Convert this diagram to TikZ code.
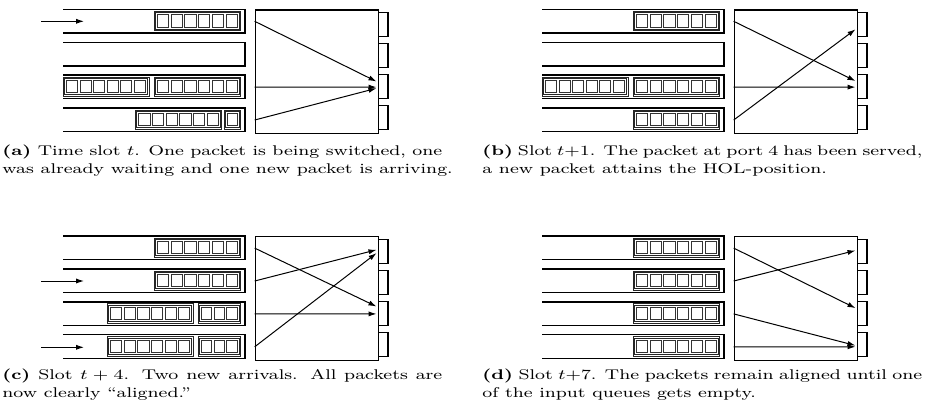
\documentclass[tikz,border=0pt]{standalone}
\usetikzlibrary{arrows.meta}

\tikzset{
  x=0.5pt, y=-0.5pt,
  queueline/.style={draw=black, line width=0.65pt},
  switchbox/.style={draw=black, line width=0.6pt, inner sep=0pt, anchor=north west,
      minimum width=61.5pt, minimum height=61.7pt},
  outport/.style={draw=black, line width=0.6pt, inner sep=0pt, anchor=north west,
      minimum width=4.8pt, minimum height=12pt},
  route/.style={draw=black, line width=0.5pt, -{Latex[length=4pt,width=2.6pt]}},
  pktframe/.style={draw=black!85, line width=0.45pt},
  pktcell/.style={draw=black!80, line width=0.5pt},
  capline/.style={inner sep=0pt, anchor=base west, font=\fontsize{8}{9}\selectfont},
}

% packet: left edge, right edge, top of its queue, number of cells
\newcommand{\drawpacket}[4]{%
  \draw[pktframe] (#1,#3+2) rectangle (#2,#3+21.3);
  \draw[pktframe] (#1+1.6,#3+3.6) rectangle (#2-1.6,#3+19.7);
  \pgfmathsetmacro{\cellw}{((#2)-(#1)-7-2.4*(#4-1))/#4}
  \foreach \k in {1,...,#4}{
    \draw[pktcell] ({#1+3.5+(\k-1)*(\cellw+2.4)},#3+5.4) rectangle ++(\cellw,12.3);
  }
}

% four input queues, the crossbar and its four output ports
\newcommand{\switchpanel}[1]{%
  \foreach \i in {1,...,4}{
    \pgfmathsetmacro{\qt}{9.3+32.9*(\i-1)}
    \draw[queueline] (63.3,\qt) -- (245,\qt) -- (245,\qt+23.7) -- (63.3,\qt+23.7);
    \coordinate (#1-in\i) at (254.7,\qt+12);
  }
  \node[switchbox] (#1-sw) at (254.7,9.3) {};
  \foreach \i/\py in {1/12,2/43,3/74,4/105}{
    \node[outport] (#1-out\i) at (377.7,\py) {};
  }
}

% caption lines: a justified full line and a closing line
\newcommand{\fullline}[1]{\scalebox{1.17}[0.88]{\makebox[188pt][s]{#1}}}
\newcommand{\lastline}[1]{\scalebox{1.17}[0.88]{#1}}

\begin{document}
\begin{tikzpicture}
\useasboundingbox (0,0) rectangle (933,409);

% ---------- (a) ----------
\begin{scope}
  \switchpanel{a}
  \drawpacket{154}{240.8}{9.3}{6}
  \drawpacket{154}{240.8}{75.1}{6}
  \drawpacket{63}{149}{75.1}{6}
  \drawpacket{224.3}{240.8}{108}{1}
  \drawpacket{135.3}{221.8}{108}{6}
  \coordinate (a-l1) at (376.5,81.5);
  \coordinate (a-l3) at (376.5,87.1);
  \coordinate (a-l4) at (376.5,88.3);
  \draw[route] (a-in1) -- (a-l1);
  \draw[route] (a-in3) -- (a-l3);
  \draw[route] (a-in4) -- (a-l4);
  \coordinate (a-src1) at (41,21.3);
  \coordinate (a-dst1) at (84,21.3);
  \draw[route] (a-src1) -- (a-dst1);
  \node[capline] (a-cap1) at (2,155) {\fullline{\textbf{(a)} Time slot $t$. One packet is being switched, one}};
  \node[capline] (a-cap2) at (2,173) {\lastline{was already waiting and one new packet is arriving.}};
\end{scope}

% ---------- (b) ----------
\begin{scope}[shift={(479,0)}]
  \switchpanel{b}
  \drawpacket{154}{240.8}{9.3}{6}
  \drawpacket{154}{240.8}{75.1}{6}
  \drawpacket{63}{149}{75.1}{6}
  \drawpacket{154}{240.8}{108}{6}
  \coordinate (b-l1) at (376.5,81);
  \coordinate (b-l3) at (376.5,87.1);
  \coordinate (b-l4) at (376.5,29.3);
  \draw[route] (b-in1) -- (b-l1);
  \draw[route] (b-in3) -- (b-l3);
  \draw[route] (b-in4) -- (b-l4);
  \node[capline] (b-cap1) at (3,155) {\fullline{\textbf{(b)} Slot $t{+}1$. The packet at port 4 has been served,}};
  \node[capline] (b-cap2) at (3,173) {\lastline{a new packet attains the HOL-position.}};
\end{scope}

% ---------- (c) ----------
\begin{scope}[shift={(0,226.8)}]
  \switchpanel{c}
  \drawpacket{154}{240.8}{9.3}{6}
  \drawpacket{154}{240.8}{42.2}{6}
  \drawpacket{198}{240.8}{75.1}{3}
  \drawpacket{107.3}{193.3}{75.1}{6}
  \drawpacket{198}{240.8}{108}{3}
  \drawpacket{107.3}{193.3}{108}{6}
  \coordinate (c-l1) at (376.5,79.7);
  \coordinate (c-l2) at (376.5,23);
  \coordinate (c-l3) at (376.5,87.1);
  \coordinate (c-l4) at (376.5,26.3);
  \draw[route] (c-in1) -- (c-l1);
  \draw[route] (c-in2) -- (c-l2);
  \draw[route] (c-in3) -- (c-l3);
  \draw[route] (c-in4) -- (c-l4);
  \coordinate (c-src2) at (41,54.2);
  \coordinate (c-dst2) at (84,54.2);
  \coordinate (c-src4) at (41,120.5);
  \coordinate (c-dst4) at (84,120.5);
  \draw[route] (c-src2) -- (c-dst2);
  \draw[route] (c-src4) -- (c-dst4);
  \node[capline] (c-cap1) at (2,153) {\fullline{\textbf{(c)} Slot $t + 4$. Two new arrivals. All packets are}};
  \node[capline] (c-cap2) at (2,171) {\lastline{now clearly ``aligned.''}};
\end{scope}

% ---------- (d) ----------
\begin{scope}[shift={(479,226.8)}]
  \switchpanel{d}
  \drawpacket{154}{240.8}{9.3}{6}
  \drawpacket{154}{240.8}{42.2}{6}
  \drawpacket{154}{240.8}{75.1}{6}
  \drawpacket{154}{240.8}{108}{6}
  \coordinate (d-l1) at (376.5,81.3);
  \coordinate (d-l2) at (376.5,23.7);
  \coordinate (d-l3) at (376.5,118.7);
  \coordinate (d-l4) at (376.5,120);
  \draw[route] (d-in1) -- (d-l1);
  \draw[route] (d-in2) -- (d-l2);
  \draw[route] (d-in3) -- (d-l3);
  \draw[route] (d-in4) -- (d-l4);
  \node[capline] (d-cap1) at (3,153) {\fullline{\textbf{(d)} Slot $t{+}7$. The packets remain aligned until one}};
  \node[capline] (d-cap2) at (3,171) {\lastline{of the input queues gets empty.}};
\end{scope}
\end{tikzpicture}
\end{document}
